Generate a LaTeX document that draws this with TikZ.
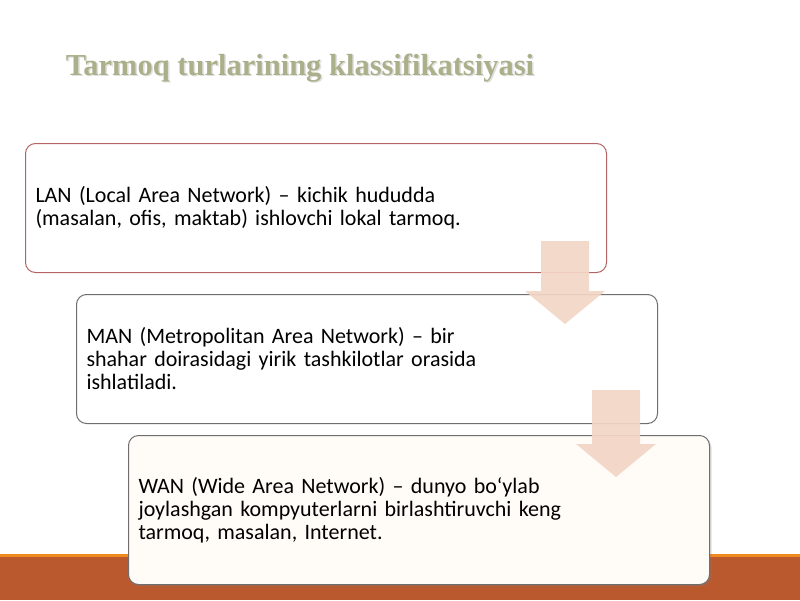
\documentclass[tikz,border=0pt]{standalone}
\usepackage{fontspec}
\setmainfont{Carlito}
\newfontfamily\titlefont{Liberation Serif}
\usetikzlibrary{calc,shadows}

\definecolor{bandrust}{RGB}{186,88,46}
\definecolor{bandline}{RGB}{240,138,30}
\definecolor{titleolive}{RGB}{172,176,138}
\definecolor{arrowpink}{RGB}{243,214,198}
\definecolor{lanborder}{RGB}{180,100,100}
\definecolor{boxborder}{RGB}{110,110,110}

\DeclareRobustCommand{\boxtextfont}{\fontsize{22}{23}\selectfont\spaceskip=0.2em plus 0.05em\relax}

\tikzset{
  netbox/.style={draw=boxborder, fill=white, rounded corners=10pt, line width=1pt,
    minimum width=581pt, minimum height=129pt, text width=561pt, inner xsep=10pt,
    align=left, font=\boxtextfont},
  arrowfill/.style={fill=arrowpink, fill opacity=0.92}
}

% big pale arrow from a top point down to a tip
\newcommand{\stepdown}[2]{%
  \fill[arrowfill] let \p1=(#1), \p2=(#2) in
    (\x1-24,\y1) -- (\x1+24,\y1) -- (\x1+24,\y2+33) -- (\x1+40,\y2+33)
    -- (\x1,\y2) -- (\x1-40,\y2+33) -- (\x1-24,\y2+33) -- cycle;}

\begin{document}
\begin{tikzpicture}[x=1pt, y=-1pt]
\useasboundingbox (0,0) rectangle (800,600);
\fill[white] (0,0) rectangle (800,600);
% band at the bottom
\fill[bandrust] (0,555) rectangle (800,600);
\fill[bandline] (0,554) rectangle (800,557);

% title
\node[font=\titlefont\bfseries\fontsize{30.5}{33}\selectfont, text=black!12, anchor=center] at (301.5,69.5) {Tarmoq turlarining klassifikatsiyasi};
\node[font=\titlefont\bfseries\fontsize{30.5}{33}\selectfont, text=titleolive, anchor=center] (title) at (300,68) {Tarmoq turlarining klassifikatsiyasi};

% boxes
\node[netbox, draw=lanborder, anchor=north west] (lan) at (25,143)
  {LAN (Local Area Network) – kichik hududda\\(masalan, ofis, maktab) ishlovchi lokal tarmoq.};
\node[netbox, anchor=north west] (man) at ($(lan.south west)+(51,21)$)
  {MAN (Metropolitan Area Network) – bir\\shahar doirasidagi yirik tashkilotlar orasida\\ishlatiladi.};
\node[netbox, minimum height=149pt, fill=white!97!orange, drop shadow={opacity=0.25, shadow xshift=2pt, shadow yshift=-2pt}, anchor=north west] (wan) at ($(man.south west)+(52,11)$)
  {WAN (Wide Area Network) – dunyo bo‘ylab\\joylashgan kompyuterlarni birlashtiruvchi keng\\tarmoq, masalan, Internet.};

% arrows between the boxes
\coordinate (a1top) at ($(lan.south east)+(-42,-32)$);
\coordinate (a1tip) at ($(man.north east)+(-42,30)$);
\coordinate (a2top) at ($(man.south east)+(-42,-34)$);
\coordinate (a2tip) at ($(wan.north east)+(-42,42)$);
\stepdown{a1top}{a1tip}
\stepdown{a2top}{a2tip}
\end{tikzpicture}
\end{document}
